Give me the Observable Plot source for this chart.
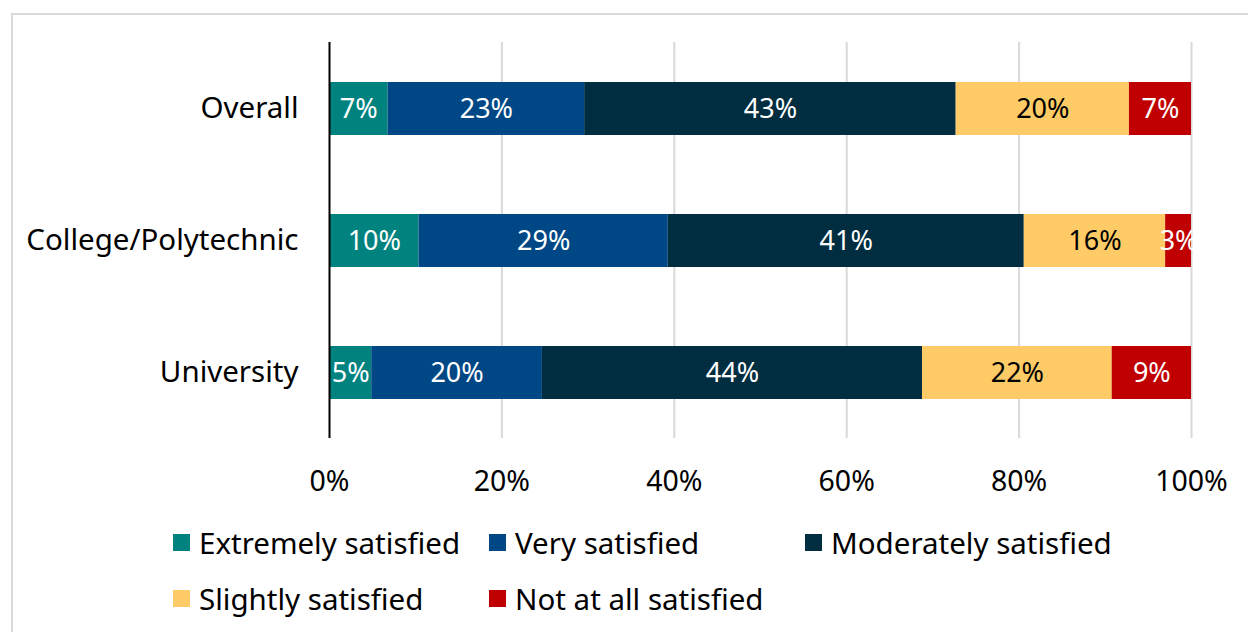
<!DOCTYPE html>
<html>
<head>
<meta charset="utf-8">
<script src="https://cdn.jsdelivr.net/npm/d3@7"></script>
<script src="https://cdn.jsdelivr.net/npm/@observablehq/plot@0.6"></script>
<style>
  html, body { margin: 0; padding: 0; background: #fff; overflow: hidden; }
  body { width: 1248px; height: 632px; position: relative; font-family: "Noto Sans", sans-serif; }
  #frame { position: absolute; left: 11px; top: 13px; width: 1260px; height: 660px; border: 2px solid #d9d9d9; box-sizing: border-box; }
  #chart { position: absolute; left: 0; top: 0; }
  #legend { position: absolute; left: 173px; top: 524px; width: 960px; display: grid; grid-template-columns: 316px 316px 316px; row-gap: 20px; }
  .item { display: flex; align-items: center; height: 36px; font-size: 29.5px; color: #000; white-space: nowrap; }
  .sw { width: 17px; height: 17px; margin-right: 9px; flex: none; }
</style>
</head>
<body>
<div id="frame"></div>
<div id="chart"></div>
<div id="legend"></div>
<script>
const categories = ["Overall", "College/Polytechnic", "University"];
const seriesNames = ["Extremely satisfied", "Very satisfied", "Moderately satisfied", "Slightly satisfied", "Not at all satisfied"];
const seriesColors = ["#00827f", "#004785", "#002d40", "#ffcb66", "#c00000"];
// values per category, in series order (percent)
const overall = [6.8, 22.8, 43.1, 20.1, 7.2];
const college = [10.4, 28.9, 41.3, 16.4, 3.0];
const university = [4.9, 19.8, 44.1, 22.0, 9.2];
const xTicks = [0, 20, 40, 60, 80, 100];

const rows = [overall, college, university];
const data = [];
categories.forEach((c, i) => rows[i].forEach((v, j) => data.push({cat: c, series: seriesNames[j], value: v})));

const dark = d => d.series !== "Slightly satisfied";
const lbl = d => Math.round(d.value) + "%";

const chart = Plot.plot({
  width: 1248,
  height: 500,
  marginLeft: 329,
  marginRight: 57,
  marginTop: 42,
  marginBottom: 62,
  style: {fontFamily: "Noto Sans", fontSize: "28.5px", color: "#000", background: "transparent"},
  x: {domain: [0, 100], ticks: xTicks, tickFormat: d => d + "%", tickSize: 0, tickPadding: 32, label: null},
  y: {domain: categories, paddingInner: 0.6, paddingOuter: 0.3, tickSize: 0, tickPadding: 31, label: null},
  color: {domain: seriesNames, range: seriesColors},
  marks: [
    Plot.ruleX(xTicks.filter(t => t > 0), {stroke: "#d9d9d9", strokeWidth: 2}),
    Plot.barX(data, Plot.stackX({x: "value", y: "cat", fill: "series", order: seriesNames})),
    Plot.text(data, Plot.stackX({x: "value", y: "cat", z: "series", order: seriesNames, text: d => dark(d) ? lbl(d) : null, fill: "white", fontSize: 27})),
    Plot.text(data, Plot.stackX({x: "value", y: "cat", z: "series", order: seriesNames, text: d => dark(d) ? null : lbl(d), fill: "black", fontSize: 27})),
    Plot.ruleX([0], {stroke: "black", strokeWidth: 2})
  ]
});
chart.querySelectorAll('[aria-label="y-axis tick label"] text, g[aria-label="y-axis tick label"]').forEach(el => el.setAttribute("font-size", "29.5"));
document.getElementById("chart").appendChild(chart);

const legend = document.getElementById("legend");
const legendOrder = [0, 1, 2, 3, 4];
legendOrder.forEach(i => {
  const it = document.createElement("div");
  it.className = "item";
  const sw = document.createElement("span");
  sw.className = "sw";
  sw.style.background = seriesColors[i];
  const tx = document.createElement("span");
  tx.textContent = seriesNames[i];
  it.appendChild(sw); it.appendChild(tx);
  legend.appendChild(it);
});
</script>
</body>
</html>
